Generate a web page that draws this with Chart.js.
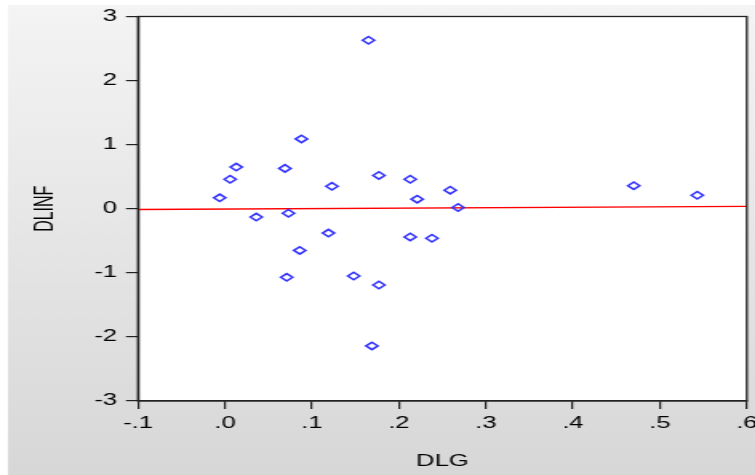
<!DOCTYPE html>
<html><head><meta charset="utf-8">
<script src="https://cdn.jsdelivr.net/npm/chart.js@4"></script>
<style>
html,body{margin:0;padding:0;background:#fff;overflow:hidden;width:755px;height:475px;}
#wrap{position:absolute;left:0;top:0;width:472px;height:475px;transform:scaleX(1.6);transform-origin:0 0;}
</style></head><body>
<div id="wrap"><canvas id="c"></canvas></div>
<script>
// Data
const dlg   = [0.165, 0.088, 0.013, 0.006, -0.006, 0.069, 0.123, 0.177, 0.213, 0.221, 0.259, 0.268,
               0.036, 0.073, 0.119, 0.086, 0.213, 0.238, 0.071, 0.148, 0.177, 0.169, 0.470, 0.543];
const dlinf = [2.63, 1.09, 0.65, 0.46, 0.17, 0.63, 0.35, 0.52, 0.46, 0.15, 0.29, 0.02,
               -0.13, -0.07, -0.38, -0.65, -0.44, -0.46, -1.07, -1.05, -1.19, -2.14, 0.36, 0.21];
const fitX = [-0.1, 0.6];
const fitY = [-0.012, 0.036];
const xRange = [-0.1, 0.6];
const yRange = [-3, 3];
const xTitle = 'DLG';
const yTitle = 'DLINF';

const FONT = "'Liberation Sans', Arial, sans-serif";
function fmtX(v){ if (Math.abs(v) < 1e-9) v = 0; let s = Number(v).toFixed(1); return s.replace('0.', '.'); }

const bgPlugin = {
  id: 'bg',
  beforeDraw(chart){
    const {ctx, width, height, chartArea:a} = chart;
    ctx.save();
    ctx.fillStyle = '#fff';
    ctx.fillRect(0,0,width,height);
    const g = ctx.createLinearGradient(0,5,0,height);
    g.addColorStop(0,'#f4f4f4');
    g.addColorStop(1,'#d7d7d7');
    ctx.fillStyle = g;
    ctx.fillRect(5,5,width-5,height-5);
    ctx.fillStyle = '#fff';
    ctx.fillRect(a.left,a.top,a.right-a.left,a.bottom-a.top);
    ctx.restore();
  },
  afterDraw(chart){
    const {ctx, chartArea:a} = chart;
    ctx.save();
    ctx.strokeStyle = '#222';
    ctx.lineWidth = 1.3;
    ctx.strokeRect(a.left,a.top,a.right-a.left,a.bottom-a.top);
    ctx.restore();
  }
};

new Chart(document.getElementById('c'), {
  data: {
    datasets: [
      { type:'scatter', data: dlg.map((x,i)=>({x, y: dlinf[i]})),
        pointStyle:'rectRot', pointRadius:3.7, pointBorderWidth:1.5,
        borderColor:'#3030ff', backgroundColor:'rgba(0,0,0,0)', pointHoverRadius:3.7 },
      { type:'line', data: fitX.map((x,i)=>({x, y: fitY[i]})),
        borderColor:'#ff0000', borderWidth:1.3, pointRadius:0, fill:false, tension:0 }
    ]
  },
  options: {
    responsive:true, maintainAspectRatio:false, animation:false,
    layout:{ padding:{ left:0, top:16.5, right:3.25, bottom:0 } },
    plugins:{ legend:{display:false}, tooltip:{enabled:false} },
    scales:{
      x:{ type:'linear', position:'bottom', min:xRange[0], max:xRange[1],
        ticks:{ stepSize:0.1, callback:v=>fmtX(v), color:'#000', font:{family:FONT,size:16}, padding:5, maxRotation:0, autoSkip:false },
        grid:{ drawOnChartArea:false, drawTicks:true, tickLength:8, color:'#222', lineWidth:1.2 },
        border:{ display:true, color:'#222', width:1.3 },
        title:{ display:true, text:xTitle, color:'#000', font:{family:FONT,size:16}, padding:{top:0,bottom:3.5} },
        afterFit(s){ s.height = 475 - 401; s.paddingLeft = 0; s.paddingRight = 0; }
      },
      y:{ type:'linear', position:'left', min:yRange[0], max:yRange[1],
        ticks:{ stepSize:1, color:'#000', font:{family:FONT,size:16}, padding:5.6 },
        grid:{ drawOnChartArea:false, drawTicks:true, tickLength:7.5, color:'#222', lineWidth:1.2 },
        border:{ display:true, color:'#222', width:1.3 },
        title:{ display:true, text:yTitle, color:'#000', font:{family:FONT,size:16}, padding:{top:18.5,bottom:0} },
        afterFit(s){ s.width = 86.25; s.paddingTop = 0; s.paddingBottom = 0; }
      }
    }
  },
  plugins:[bgPlugin]
});
</script>
</body></html>
